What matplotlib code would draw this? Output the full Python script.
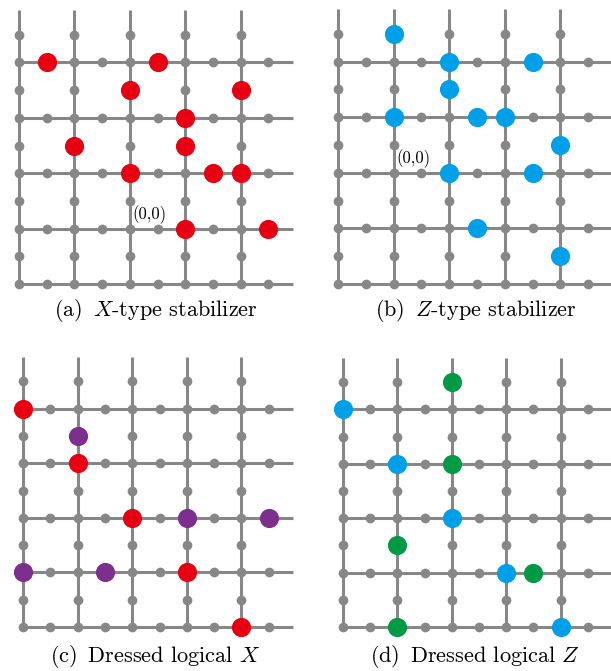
import matplotlib
matplotlib.use("Agg")
import matplotlib.pyplot as plt

plt.rcParams['font.family'] = ['cmr10', 'DejaVu Serif']
plt.rcParams['mathtext.fontset'] = 'cm'
plt.rcParams['axes.formatter.use_mathtext'] = True

# Lattice size (vertices 0..4 in each direction)
N = 5

# Coloured qubits (x, y) in lattice units, y=0 is bottom row
a_red_x = [0.5, 2.5, 2, 4, 3, 1, 3, 2, 3.5, 4, 3, 4.5]
a_red_y = [4, 4, 3.5, 3.5, 3, 2.5, 2.5, 2, 2, 2, 1, 1]

b_blue_x = [1, 2, 3.5, 2, 1, 2.5, 3, 4, 2, 3.5, 2.5, 4]
b_blue_y = [4.5, 4, 4, 3.5, 3, 3, 3, 2.5, 2, 2, 1, 0.5]

c_red_x = [0, 1, 2, 3, 4]
c_red_y = [4, 3, 2, 1, 0]
c_purple_x = [1, 3, 4.5, 0, 1.5]
c_purple_y = [3.5, 2, 2, 1, 1]

d_blue_x = [0, 1, 2, 3, 4]
d_blue_y = [4, 3, 2, 1, 0]
d_green_x = [2, 2, 1, 3.5, 1]
d_green_y = [4.5, 3, 1.5, 1, 0]

captions = [r"(a) $\,X$-type stabilizer", r"(b) $\,Z$-type stabilizer",
            r"(c) $\,$Dressed logical $X$", r"(d) $\,$Dressed logical $Z$"]
origin_labels = {0: (2, 1), 1: (1, 2)}

GRAY = '#878787'
RED = '#E60012'
BLUE = '#00A0E9'
PURPLE = '#7D2F8E'
GREEN = '#009944'

W, H = 611, 671
fig = plt.figure(figsize=(W / 100, H / 100), dpi=100)

# panel origin (px of vertex (0,0) from top-left), unit px
panels = [
    (19, 284, 55.4),
    (338, 284, 55.6),
    (23, 627, 54.6),
    (343, 627, 54.4),
]
caption_pos = [(156, 311), (476, 311), (155, 657), (475, 657)]

layers = [
    [(a_red_x, a_red_y, RED)],
    [(b_blue_x, b_blue_y, BLUE)],
    [(c_red_x, c_red_y, RED), (c_purple_x, c_purple_y, PURPLE)],
    [(d_blue_x, d_blue_y, BLUE), (d_green_x, d_green_y, GREEN)],
]

lo, hi = -0.5, 5.5
for k, (ox, oy, u) in enumerate(panels):
    left = (ox + lo * u) / W
    bottom = (H - (oy - lo * u)) / H
    w = (hi - lo) * u / W
    h = (hi - lo) * u / H
    ax = fig.add_axes([left, bottom, w, h])
    ax.set_xlim(lo, hi)
    ax.set_ylim(lo, hi)
    ax.axis('off')
    ext = N - 1 + 0.95
    for j in range(N):
        ax.plot([0, ext], [j, j], color=GRAY, lw=2.2, zorder=1,
                solid_capstyle='butt', clip_on=False)
        ax.plot([j, j], [0, ext], color=GRAY, lw=2.2, zorder=1,
                solid_capstyle='butt', clip_on=False)
    gx, gy = [], []
    for i in range(N):
        for j in range(N):
            gx += [i, i + 0.5, i]
            gy += [j, j, j + 0.5]
    ax.scatter(gx, gy, s=7.0 ** 2, color=GRAY, zorder=2, linewidths=0,
               clip_on=False)
    for xs, ys, c in layers[k]:
        ax.scatter(xs, ys, s=13.8 ** 2, color=c, zorder=3, linewidths=0,
                   clip_on=False)
    if k in origin_labels:
        vx, vy = origin_labels[k]
        ax.text(vx + 0.35, vy + 0.25, "(0,0)", fontsize=12,
                ha='center', va='center', zorder=4)
    cx, cy = caption_pos[k]
    fig.text(cx / W, 1 - cy / H, captions[k], fontsize=16,
             ha='center', va='center')

fig.savefig("out.png", dpi=100)
